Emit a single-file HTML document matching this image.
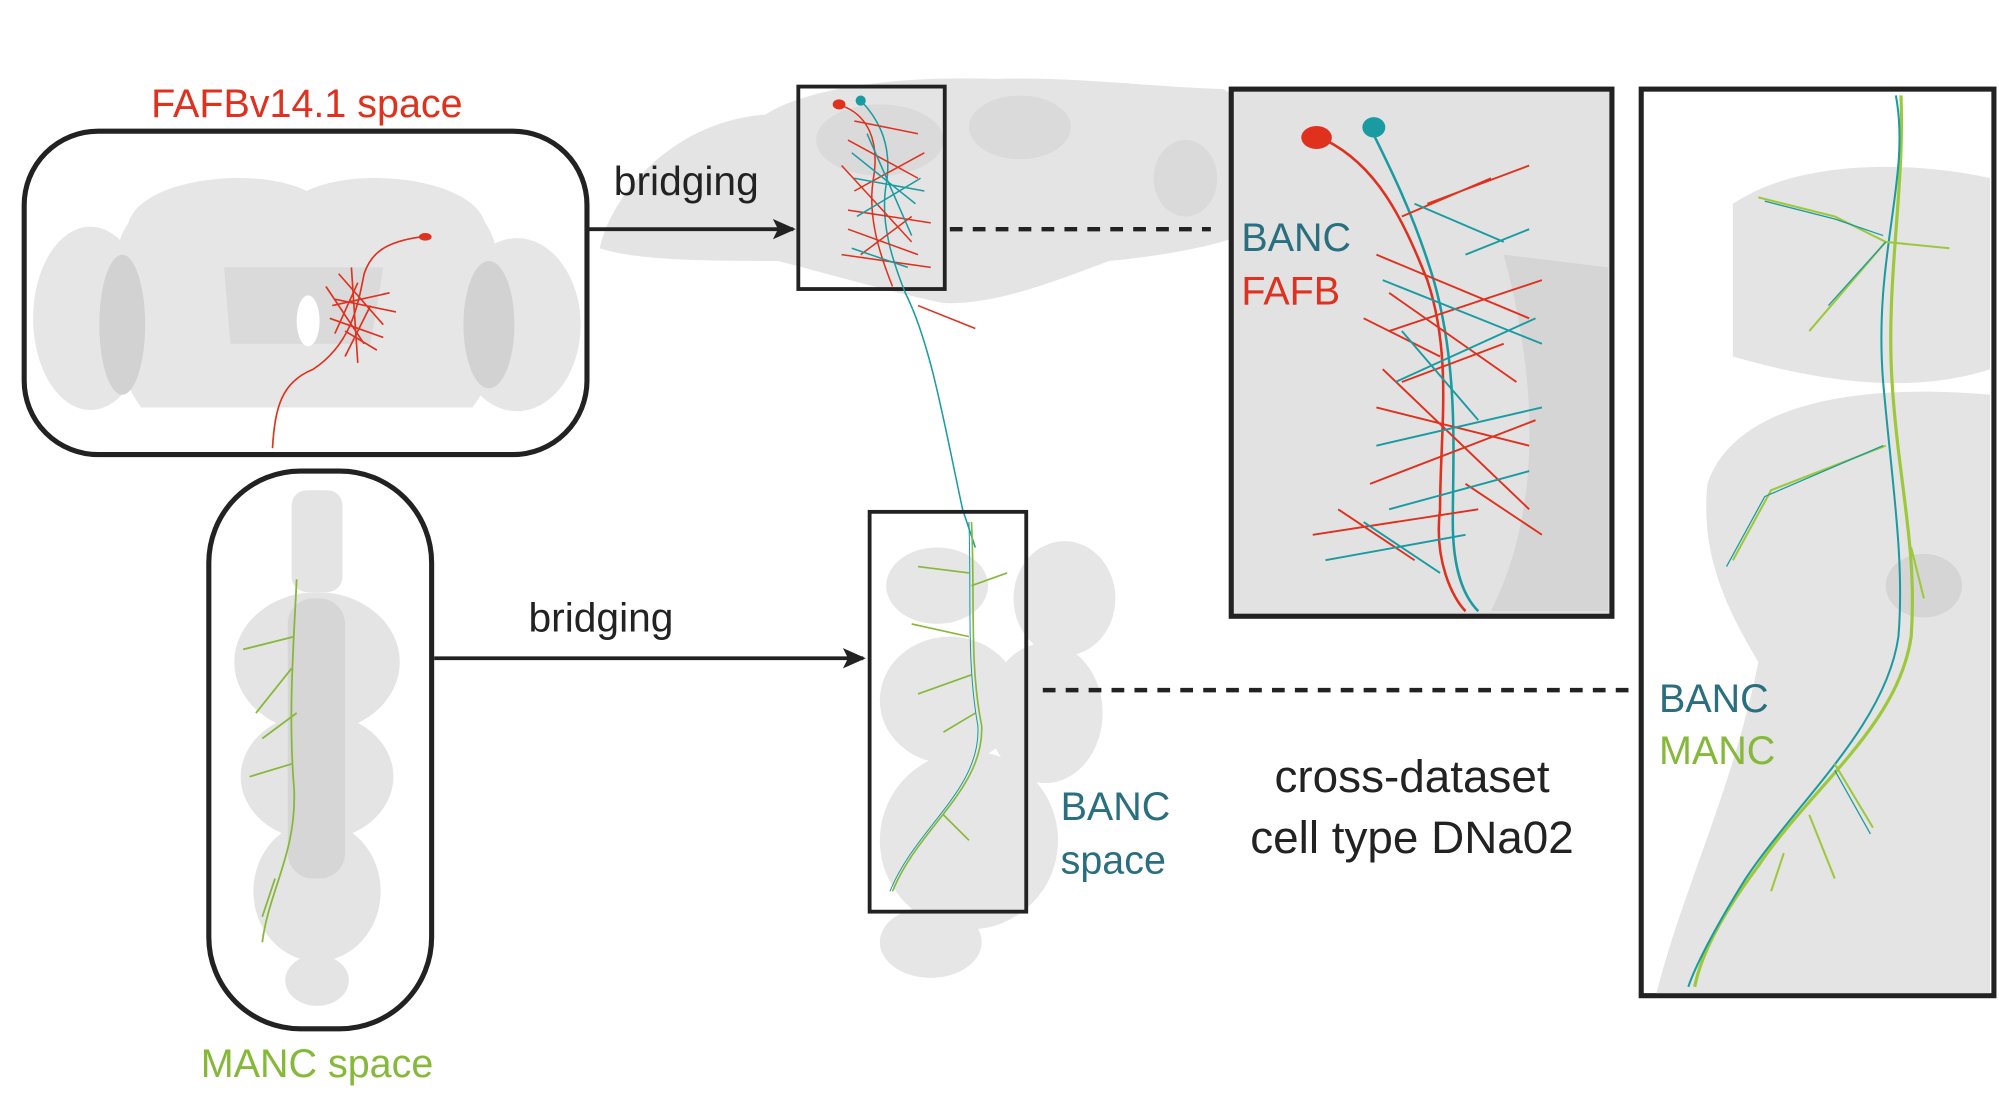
<!DOCTYPE html>
<html><head><meta charset="utf-8"><style>
html,body{margin:0;padding:0;background:#fff;}
svg{display:block;}
text{font-family:"Liberation Sans",Arial,sans-serif;}
</style></head><body>
<svg width="1999" height="1095" viewBox="0 0 1568 860" xmlns="http://www.w3.org/2000/svg">
<defs>
<marker id="ah" markerWidth="18" markerHeight="16" refX="16" refY="8" orient="auto" markerUnits="userSpaceOnUse"><path d="M0,0 L18,8 L0,16 L4,8 z" fill="#222"/></marker>
</defs>
<rect width="1568" height="860" fill="#fff"/>

<!-- Top brain (BANC) background -->
<g fill="#e4e4e4">
<path d="M470,195 C480,150 530,95 600,90 C640,65 720,60 780,62 C840,60 900,68 960,70 L1000,95 L1000,170 C980,190 920,200 870,205 C830,220 780,240 740,238 C700,230 650,215 610,205 C560,205 500,205 470,195 Z"/>
</g>
<g fill="#d4d4d4" opacity="0.6">
<ellipse cx="690" cy="110" rx="50" ry="28"/><ellipse cx="800" cy="100" rx="40" ry="25"/><ellipse cx="930" cy="140" rx="25" ry="30"/>
</g>
<!-- VNC BANC background -->
<g fill="#e6e6e6">
<ellipse cx="735" cy="460" rx="40" ry="30"/><ellipse cx="835" cy="470" rx="40" ry="45"/>
<ellipse cx="745" cy="550" rx="55" ry="50"/><ellipse cx="820" cy="560" rx="45" ry="55"/>
<ellipse cx="760" cy="660" rx="70" ry="70"/><ellipse cx="730" cy="740" rx="40" ry="28"/>
</g>

<!-- FAFB box -->
<rect x="18" y="103" width="442" height="254" rx="58" fill="#fff" stroke="#222" stroke-width="4"/>
<g fill="#e6e6e6">
<path d="M100,175 C110,140 200,130 240,150 C280,130 370,140 380,175 C400,200 395,290 370,320 L110,320 C85,290 80,200 100,175 Z"/>
<ellipse cx="70" cy="250" rx="45" ry="72"/><ellipse cx="405" cy="255" rx="50" ry="68"/>
</g>
<g fill="#d2d2d2"><ellipse cx="95" cy="255" rx="18" ry="55"/><ellipse cx="383" cy="255" rx="20" ry="50"/><path d="M175,210 L300,210 L290,270 L180,270 Z" opacity="0.6"/></g>
<ellipse cx="241" cy="252" rx="9" ry="20" fill="#fff"/>
<g stroke="#e0301e" stroke-width="1.3" fill="none">
<path d="M330,186 C300,190 290,200 285,215 C280,240 275,270 245,290 C220,300 215,320 213,352"/>
<path d="M265,215 L300,255 M260,240 L305,230 M270,260 L295,275 M280,222 L262,262 M290,240 L270,280 M255,225 L285,270 M258,250 L300,265 M275,210 L280,285 M262,235 L310,245"/>
</g>
<ellipse cx="333" cy="186" rx="5" ry="3" fill="#e0301e"/>
<text x="240" y="92" text-anchor="middle" font-size="31" fill="#e0301e">FAFBv14.1 space</text>

<!-- arrow 1 -->
<line x1="462" y1="180" x2="622" y2="180" stroke="#222" stroke-width="3" marker-end="url(#ah)"/>
<text x="538" y="153" text-anchor="middle" font-size="32" fill="#222">bridging</text>

<!-- small top box -->
<rect x="626" y="68" width="115" height="159" fill="none" stroke="#222" stroke-width="3"/>
<g stroke-width="1.2" fill="none">
<path d="M660,83 C680,90 690,110 685,140 C680,170 690,200 700,225" stroke="#e0301e"/>
<path d="M676,80 C690,95 700,115 695,145 C690,175 700,205 710,230 C730,270 740,330 755,400 L765,430" stroke="#1a9ba1"/>
<path d="M665,110 L720,140 M670,150 L725,120 M665,180 L720,200 M675,200 L715,170 M660,130 L715,190 M660,200 L730,210 M670,95 L720,105 M665,165 L730,175" stroke="#e0301e"/>
<path d="M668,120 L718,160 M672,170 L722,140 M668,195 L712,210 M670,140 L725,150 M680,105 L715,185" stroke="#1a9ba1"/>
<path d="M720,240 L765,258" stroke="#e0301e"/>
</g>
<ellipse cx="658" cy="82" rx="5" ry="4" fill="#e0301e"/><ellipse cx="675" cy="79" rx="4" ry="4" fill="#1a9ba1"/>
<line x1="745" y1="180" x2="950" y2="180" stroke="#222" stroke-width="3.5" stroke-dasharray="10,8"/>

<!-- big box -->
<rect x="966" y="70" width="299" height="414" fill="#e2e2e2" stroke="#222" stroke-width="4"/>
<g fill="#d0d0d0" opacity="0.7"><path d="M1180,200 L1262,210 L1262,480 L1170,480 C1200,420 1215,330 1180,200 Z"/></g>
<g stroke-width="2" fill="none">
<path d="M1040,110 C1080,130 1100,170 1120,220 C1140,280 1130,340 1130,400 C1125,440 1140,470 1150,480" stroke="#e0301e"/>
<path d="M1075,100 C1090,130 1110,170 1125,220 C1145,290 1140,360 1140,410 C1140,450 1150,470 1160,480" stroke="#1a9ba1"/>
<path d="M1080,200 L1200,250 M1090,260 L1210,220 M1080,320 L1200,350 M1075,380 L1205,330 M1030,420 L1160,400 M1100,170 L1170,140 M1090,230 L1190,300 M1085,290 L1200,400 M1070,250 L1130,280 M1100,300 L1180,270 M1050,400 L1110,440 M1150,380 L1210,420 M1120,160 L1200,130" stroke="#e0301e" stroke-width="1.5"/>
<path d="M1085,220 L1210,270 M1095,300 L1205,250 M1080,350 L1210,320 M1090,400 L1200,370 M1040,440 L1150,420 M1110,160 L1180,190 M1100,260 L1160,330 M1150,200 L1200,180 M1070,410 L1130,450" stroke="#1a9ba1" stroke-width="1.5"/>
</g>
<ellipse cx="1033" cy="108" rx="12" ry="9" fill="#e0301e"/><ellipse cx="1078" cy="100" rx="9" ry="8" fill="#1a9ba1"/>
<text x="974" y="197" font-size="31" fill="#2a6f80">BANC</text>
<text x="974" y="239" font-size="31" fill="#e0301e">FAFB</text>

<!-- right box -->
<rect x="1288" y="70" width="277" height="712" fill="#fff" stroke="#222" stroke-width="4"/>
<g fill="#e4e4e4"><path d="M1360,160 C1420,120 1520,130 1562,140 L1562,290 C1500,310 1430,300 1360,280 Z"/>
<path d="M1340,380 C1360,320 1450,300 1562,310 L1562,780 L1300,780 C1320,700 1360,620 1380,520 C1350,470 1335,430 1340,380 Z"/></g>
<g fill="#cfcfcf" opacity="0.7"><ellipse cx="1510" cy="460" rx="30" ry="25"/></g>
<g stroke-width="2.5" fill="none">
<path d="M1492,75 C1495,150 1480,220 1485,300 C1490,380 1505,430 1500,500 C1490,570 1420,620 1380,680 C1350,720 1335,750 1330,775" stroke="#9cc83a"/>
<path d="M1488,75 C1500,140 1470,200 1478,300 C1485,380 1495,440 1490,500 C1480,570 1410,630 1370,690 C1345,730 1330,760 1325,775" stroke="#1a9ba1" stroke-width="1.6"/>
<path d="M1380,155 L1440,170 L1480,190 L1530,195 M1480,190 L1420,260 M1480,350 L1390,385 L1360,440 M1500,430 L1510,470 M1440,600 L1470,650 M1420,640 L1440,690 M1400,670 L1390,700" stroke="#9cc83a" stroke-width="1.6"/>
<path d="M1385,158 L1440,172 L1478,185 M1478,350 L1385,390 L1355,445 M1440,605 L1468,655 M1480,190 L1435,240" stroke="#1a9ba1" stroke-width="1"/>
</g>
<text x="1302" y="559" font-size="31" fill="#2a6f80">BANC</text>
<text x="1302" y="600" font-size="31" fill="#86b83a">MANC</text>

<!-- MANC pill -->
<rect x="163" y="370" width="175" height="438" rx="72" fill="#fff" stroke="#222" stroke-width="4"/>
<g fill="#e4e4e4">
<rect x="228" y="385" width="40" height="80" rx="12"/>
<ellipse cx="248" cy="520" rx="65" ry="55"/><ellipse cx="248" cy="610" rx="60" ry="50"/><ellipse cx="248" cy="700" rx="50" ry="55"/><ellipse cx="248" cy="770" rx="25" ry="20"/>
</g>
<g fill="#c8c8c8" opacity="0.5"><rect x="225" y="470" width="45" height="220" rx="20"/></g>
<g stroke="#86b83a" stroke-width="1.4" fill="none">
<path d="M232,455 C230,500 225,560 230,620 C232,670 210,700 205,740"/>
<path d="M230,500 L190,510 M228,525 L200,560 M232,560 L205,580 M228,600 L195,610 M215,690 L205,720"/>
</g>
<text x="248" y="846" text-anchor="middle" font-size="31" fill="#86b83a">MANC space</text>

<!-- arrow 2 -->
<line x1="340" y1="517" x2="677" y2="517" stroke="#222" stroke-width="3" marker-end="url(#ah)"/>
<text x="471" y="496" text-anchor="middle" font-size="32" fill="#222">bridging</text>

<!-- lower box -->
<rect x="682" y="402" width="123" height="314" fill="none" stroke="#222" stroke-width="3"/>
<g stroke-width="1.3" fill="none">
<path d="M762,410 C765,470 760,520 770,570 C772,620 720,650 700,700" stroke="#86b83a"/>
<path d="M760,410 C762,470 758,520 767,570 C770,620 718,650 698,700" stroke="#1a9ba1" stroke-width="0.8"/>
<path d="M760,450 L720,445 M762,460 L790,450 M760,500 L715,490 M762,530 L720,545 M765,560 L740,575 M740,640 L760,660" stroke="#86b83a"/>
</g>
<line x1="818" y1="542" x2="1280" y2="542" stroke="#222" stroke-width="3.5" stroke-dasharray="10,8"/>
<text x="832" y="644" font-size="31" fill="#2a6f80">BANC</text>
<text x="832" y="686" font-size="31" fill="#2a6f80">space</text>
<text x="1108" y="622" text-anchor="middle" font-size="36" fill="#222">cross-dataset</text>
<text x="1108" y="670" text-anchor="middle" font-size="36" fill="#222">cell type DNa02</text>
</svg>
</body></html>
